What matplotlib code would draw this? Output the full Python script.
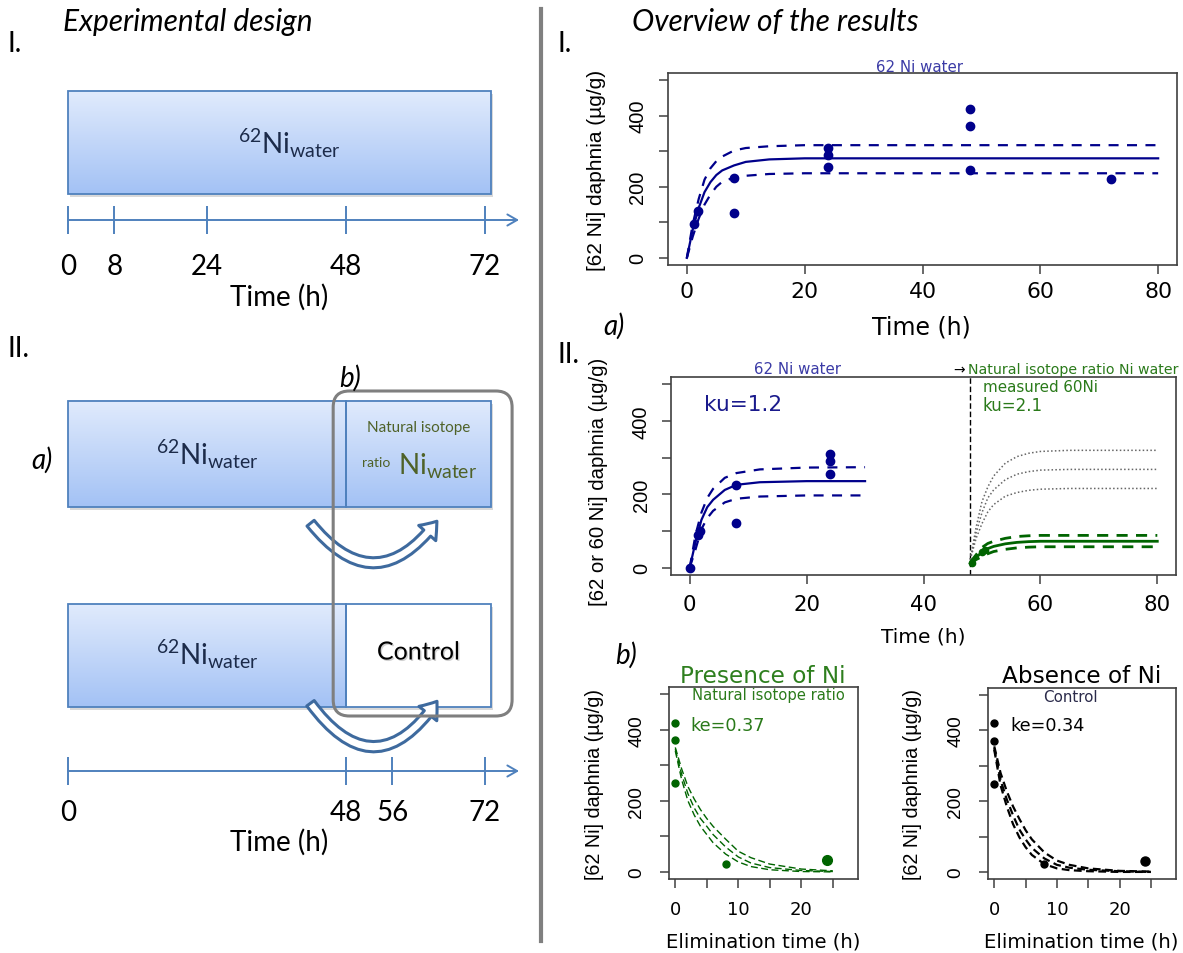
import numpy as np
import matplotlib
matplotlib.use("Agg")
import matplotlib.pyplot as plt
from matplotlib.patches import Rectangle, FancyBboxPatch, FancyArrowPatch
from matplotlib.lines import Line2D
import matplotlib.patheffects as pe

# ---------------- values ----------------
# experimental design (h)
design_ticks_I = [0, 8, 24, 48, 72]
design_ticks_II = [0, 48, 56, 72]
exposure_end = 48
design_end = 73

# I. 62Ni uptake over 72 h
t_obs_I = [1.2, 1.9, 8, 8, 24, 24, 24, 48, 48, 48, 72]
c_obs_I = [96, 133, 226, 125, 309, 289, 255, 420, 370, 248, 221]
t_fit_I = [0, 1, 2, 3, 4, 5, 6, 8, 10, 14, 20, 80]
fit_I = [0, 80, 140, 185, 213, 233, 246, 260, 270, 277, 280, 280]
fit_I_hi = [0, 95, 165, 220, 252, 272, 285, 302, 309, 314, 317, 317]
fit_I_lo = [0, 60, 110, 150, 178, 200, 214, 226, 231, 236, 238, 238]

# II a) 62Ni uptake 0-48 h, then natural isotope ratio Ni water
t_obs_II = [0, 1.35, 1.7, 8, 8, 24, 24, 24]
c_obs_II = [0, 90, 100, 225, 123, 310, 290, 255]
t_fit_II = [0, 1, 2, 3, 4, 6, 8, 12, 20, 30]
fit_II = [0, 70, 130, 165, 185, 212, 226, 233, 236, 236]
fit_II_hi = [0, 90, 150, 190, 215, 245, 258, 268, 273, 274]
fit_II_lo = [0, 50, 105, 135, 155, 178, 188, 194, 197, 197]
t_nat = [48, 49, 50, 51, 52, 54, 56, 58, 60, 65, 80]
sim_hi = [22, 110, 180, 220, 250, 285, 303, 312, 317, 320, 320]
sim_mid = [22, 95, 150, 190, 212, 240, 255, 262, 266, 268, 268]
sim_lo = [22, 80, 120, 152, 172, 195, 205, 211, 214, 216, 216]
fit_60 = [12, 28, 42, 52, 58, 65, 69, 71, 72, 72, 72]
fit_60_hi = [15, 35, 55, 66, 72, 80, 85, 87, 88, 88, 88]
fit_60_lo = [10, 22, 30, 38, 44, 50, 54, 56, 57, 57, 57]
t_obs_60 = [48.3, 50, 50.5]
c_obs_60 = [12, 42, 48]

# II b) elimination
t_elim = [0, 1, 2, 3, 4, 5, 6, 8, 10, 12, 15, 20, 25]
nat_mid = [345, 275, 220, 180, 150, 128, 105, 70, 42, 25, 12, 4, 1]
nat_hi = [350, 290, 240, 205, 175, 150, 128, 92, 58, 40, 22, 8, 3]
nat_lo = [340, 260, 200, 160, 128, 105, 82, 50, 28, 15, 6, 1, 0]
ctl_mid = [350, 260, 205, 160, 120, 92, 68, 38, 20, 12, 6, 2, 0]
ctl_hi = [355, 280, 228, 185, 150, 118, 92, 55, 32, 20, 10, 3, 1]
ctl_lo = [345, 245, 185, 135, 98, 70, 48, 22, 10, 5, 2, 0, 0]
t_obs_nat = [0, 0, 0, 8, 24]
c_obs_nat = [420, 370, 249, 22, 33]
t_obs_ctl = [0, 0, 0, 8, 24]
c_obs_ctl = [420, 370, 249, 22, 30]

y_ticks = [0, 100, 200, 300, 400, 500]
y_labels = ['0', '', '200', '', '400', '']

# ---------------- figure ----------------
plt.rcParams['mathtext.fontset'] = 'custom'
plt.rcParams['mathtext.rm'] = 'Lato'
plt.rcParams['mathtext.it'] = 'Lato:italic'

W, H = 1183, 954
fig = plt.figure(figsize=(W / 100, H / 100), dpi=100)


def ftxt(x, y, s, **kw):
    return fig.text(x / W, 1 - y / H, s, **kw)


navy = '#00008B'
title_blue = '#3B3BA6'
green = '#006400'
green_txt = '#2A7A1A'
edge = '#4F81BD'
dark_txt = '#1C2B4A'
olive = '#4F6228'

# ---------------- left: experimental design ----------------
axL = fig.add_axes([0, 0, 541 / W, 1])
axL.axis('off')
ppx = 5.79  # pixels per hour in the drawing

top_c = np.array([0.88, 0.92, 0.99])
bot_c = np.array([0.64, 0.76, 0.96])
grad = top_c + (bot_c - top_c) * np.linspace(0, 1, 100)[:, None, None]


def phase_box(h0, h1, ytop, ybot, filled=True):
    axL.add_patch(Rectangle((h0 + 0.35, ytop + 3), h1 - h0, ybot - ytop,
                            color='black', alpha=0.15, lw=0, zorder=1))
    if filled:
        axL.imshow(grad, extent=(h0, h1, ybot, ytop), origin='upper',
                   aspect='auto', zorder=2, interpolation='bilinear')
    else:
        axL.add_patch(Rectangle((h0, ytop), h1 - h0, ybot - ytop,
                                color='white', lw=0, zorder=2))
    axL.add_patch(Rectangle((h0, ytop), h1 - h0, ybot - ytop, fill=False,
                            ec=edge, lw=1.3, zorder=3))


def timeline(y, ticks, lab_y, time_y):
    axL.annotate('', xy=(77.9, y), xytext=(0, y),
                 arrowprops=dict(arrowstyle='->,head_length=0.7,head_width=0.4',
                                 color=edge, lw=1.4, shrinkA=0, shrinkB=0))
    axL.vlines(ticks, y - 14, y + 14, color=edge, lw=1.4)
    for tk in ticks:
        axL.text(tk, lab_y, str(tk), ha='center', va='center', fontsize=20,
                 family='Lato')
    axL.text(ticks[-1] / 2 + 0.5, time_y, 'Time (h)', ha='center', va='center',
             fontsize=20, family='Lato')


ni62 = r'$^{62}$Ni$_{\mathrm{water}}$'

# I.
phase_box(0, design_end, 92, 195)
axL.text(design_end / 2 + 1.8, 153, ni62, ha='center', va='baseline',
         fontsize=20, family='Lato', color=dark_txt, zorder=4)
timeline(221, design_ticks_I, 267, 297)

# II.
phase_box(0, exposure_end, 402, 508)
phase_box(exposure_end, design_end, 402, 508)
phase_box(0, exposure_end, 605, 708)
phase_box(exposure_end, design_end, 605, 708, filled=False)
axL.text(exposure_end / 2, 465, ni62, ha='center', va='baseline',
         fontsize=20, family='Lato', color=dark_txt, zorder=4)
axL.text(exposure_end / 2, 665, ni62, ha='center', va='baseline',
         fontsize=20, family='Lato', color=dark_txt, zorder=4)
axL.text(60.5, 428, 'Natural isotope', ha='center', va='center', fontsize=11,
         family='Lato', color=olive, zorder=4)
axL.text(50.8, 463, 'ratio', ha='left', va='center', fontsize=10,
         family='Lato', color=olive, zorder=4)
axL.text(57.0, 475, r'Ni$_{\mathrm{water}}$', ha='left', va='baseline',
         fontsize=20, family='Lato', color=olive, zorder=4)
axL.text(60.5, 653, 'Control', ha='center', va='center', fontsize=18,
         family='Lato', color='black', zorder=4,
         path_effects=[pe.withSimplePatchShadow(offset=(1, -1),
                                                shadow_rgbFace='#999999',
                                                alpha=0.45)])

for y0, rad in [(522, 0.66), (702, 0.72)]:
    axL.add_patch(FancyArrowPatch((41.6, y0), (64.0, y0 - 2),
                                  connectionstyle=f'arc3,rad={rad}',
                                  arrowstyle='simple,head_length=1.0,head_width=1.5,tail_width=0.6',
                                  mutation_scale=11, fc='white', ec='#3E6A9E',
                                  lw=2.2, zorder=5))

axL.add_patch(FancyBboxPatch((45.8, 392), 30.9, 325,
                             boxstyle='round,pad=0,rounding_size=2.8',
                             mutation_aspect=ppx, fill=False, ec='#7F7F7F',
                             lw=2.2, zorder=6))
timeline(772, design_ticks_II, 813, 842)

axL.set_xlim(-68 / ppx, (541 - 68) / ppx)
axL.set_ylim(H, 0)

ftxt(63, 22, 'Experimental design', fontsize=21.5, family='Lato',
     style='italic', va='center')
ftxt(8, 44, 'I.', fontsize=20, family='Lato', va='center')
ftxt(8, 349, 'II.', fontsize=20, family='Lato', va='center')
ftxt(350, 378, 'b)', fontsize=20, family='Lato', style='italic',
     va='center', ha='center')
ftxt(42, 460, 'a)', fontsize=20, family='Lato', style='italic',
     va='center', ha='center')

fig.add_artist(Line2D([541 / W, 541 / W], [1 - 10 / H, 1 - 942 / H],
                      color='#808080', lw=3))

# ---------------- right: results ----------------
ftxt(632, 22, 'Overview of the results', fontsize=21.5, family='Lato',
     style='italic', va='center')
ftxt(558, 44, 'I.', fontsize=20, family='Lato', va='center')
ftxt(558, 355, 'II.', fontsize=20, family='Lato', va='center')
ftxt(614, 326, 'a)', fontsize=20, family='Lato', style='italic',
     va='center', ha='center')
ftxt(626, 655, 'b)', fontsize=20, family='Lato', style='italic',
     va='center', ha='center')


def r_axes(l, t, r, b, xlim, xticks, xlabels, xfs, yfs, xpad, ypad):
    ax = fig.add_axes([l / W, 1 - b / H, (r - l) / W, (b - t) / H])
    ax.set_xlim(xlim)
    ax.set_ylim(-20, 520)
    ax.set_xticks(xticks, xlabels, fontsize=xfs)
    ax.set_yticks(y_ticks, y_labels, fontsize=yfs, family='Liberation Sans',
                  rotation=90, va='center')
    ax.tick_params(length=6.5, width=1.1, color='#404040')
    ax.tick_params(axis='x', pad=xpad)
    ax.tick_params(axis='y', pad=ypad)
    for s in ax.spines.values():
        s.set_color('#404040')
        s.set_linewidth(1.2)
    return ax


# I.
ax1 = r_axes(668, 74, 1177, 266, (-3.2, 83.2), [0, 20, 40, 60, 80],
             ['0', '20', '40', '60', '80'], 15.8, 14.4, 5, 8.5)
ax1.plot(t_fit_I, fit_I, color=navy, lw=1.6)
ax1.plot(t_fit_I, fit_I_hi, color=navy, lw=1.6, dashes=(4.5, 3.8))
ax1.plot(t_fit_I, fit_I_lo, color=navy, lw=1.6, dashes=(4.5, 3.8))
ax1.plot(t_obs_I, c_obs_I, 'o', color=navy, ms=6)
ftxt(919, 68, '62 Ni water', fontsize=10.8, color=title_blue,
     ha='center', va='center')
ftxt(597, 170, '[62 Ni] daphnia (µg/g)', fontsize=15, family='Liberation Sans',
     rotation=90, ha='center', va='center')
ftxt(921, 327, 'Time (h)', fontsize=17, ha='center', va='center')

# II a)
ax2 = r_axes(671, 378, 1176, 576, (-3.2, 83.2), [0, 20, 40, 60, 80],
             ['0', '20', '40', '60', '80'], 15.3, 14.4, 7, 8)
ax2.axvline(exposure_end, color='black', lw=1, dashes=(4, 2))
ax2.plot(t_fit_II, fit_II, color=navy, lw=1.6)
ax2.plot(t_fit_II, fit_II_hi, color=navy, lw=1.6, dashes=(4.5, 3.8))
ax2.plot(t_fit_II, fit_II_lo, color=navy, lw=1.6, dashes=(4.5, 3.8))
ax2.plot(t_obs_II, c_obs_II, 'o', color=navy, ms=6)
for sim in (sim_hi, sim_mid, sim_lo):
    ax2.plot(t_nat, sim, color='#666666', lw=1.1, ls=(0, (1, 1.5)))
ax2.plot(t_nat, fit_60, color=green, lw=2)
ax2.plot(t_nat, fit_60_hi, color=green, lw=2, dashes=(4, 3))
ax2.plot(t_nat, fit_60_lo, color=green, lw=2, dashes=(4, 3))
ax2.plot(t_obs_60, c_obs_60, 'o', color=green, ms=4.5)
ftxt(797, 370, '62 Ni water', fontsize=10.8, color=title_blue,
     ha='center', va='center')
ftxt(953, 370, '→', fontsize=10, color='black', ha='left', va='center')
ftxt(968, 370, 'Natural isotope ratio Ni water', fontsize=10.2,
     color=green_txt, ha='left', va='center')
ftxt(983, 387, 'measured 60Ni', fontsize=10.9, color=green_txt,
     ha='left', va='center')
ftxt(982, 406, 'ku=2.1', fontsize=12, color=green_txt, ha='left', va='center')
ftxt(704, 405, 'ku=1.2', fontsize=15.6, color='#1A1A8C', ha='left',
     va='center')
ftxt(599, 482, '[62 or 60 Ni] daphnia (µg/g)', fontsize=14.7,
     family='Liberation Sans', rotation=90, ha='center', va='center')
ftxt(923, 637, 'Time (h)', fontsize=14.5, ha='center', va='center')

# II b) presence / absence of Ni
elim_ticks = [0, 5, 10, 15, 20, 25]
elim_labels = ['0', '', '10', '', '20', '']
ax3 = r_axes(669, 688, 858, 880, (-1, 29), elim_ticks, elim_labels,
             13, 13.7, 8.5, 10.5)
for c in (nat_hi, nat_mid, nat_lo):
    ax3.plot(t_elim, c, color=green, lw=1.0, dashes=(5, 2.5))
ax3.plot(t_obs_nat[:4], c_obs_nat[:4], 'o', color=green, ms=5)
ax3.plot(t_obs_nat[4:], c_obs_nat[4:], 'o', color=green, ms=7)
ftxt(763, 677, 'Presence of Ni', fontsize=16.7, color='#2E7F1E',
     ha='center', va='center')
ftxt(768, 696, 'Natural isotope ratio', fontsize=10.6, color=green_txt,
     ha='center', va='center')
ftxt(690, 726, 'ke=0.37', fontsize=12.7, color=green_txt, ha='left',
     va='center')
ftxt(595, 785, '[62 Ni] daphnia (µg/g)', fontsize=14.2,
     family='Liberation Sans', rotation=90, ha='center', va='center')
ftxt(763, 942, 'Elimination time (h)', fontsize=14.1, ha='center',
     va='center')

ax4 = r_axes(988, 689, 1176, 880, (-1, 29), elim_ticks, elim_labels,
             13, 13.7, 8.5, 10.5)
for c in (ctl_hi, ctl_mid, ctl_lo):
    ax4.plot(t_elim, c, color='black', lw=1.6, dashes=(3.5, 2))
ax4.plot(t_obs_ctl[:4], c_obs_ctl[:4], 'o', color='black', ms=5)
ax4.plot(t_obs_ctl[4:], c_obs_ctl[4:], 'o', color='black', ms=6.5)
ftxt(1082, 677, 'Absence of Ni', fontsize=16.7, color='black',
     ha='center', va='center')
ftxt(1070, 697, 'Control', fontsize=10.9, color='#2B2B4B',
     ha='center', va='center')
ftxt(1010, 726, 'ke=0.34', fontsize=12.7, color='black', ha='left',
     va='center')
ftxt(913, 785, '[62 Ni] daphnia (µg/g)', fontsize=14.2,
     family='Liberation Sans', rotation=90, ha='center', va='center')
ftxt(1081, 942, 'Elimination time (h)', fontsize=14.1, ha='center',
     va='center')

fig.savefig('out.png', dpi=100)
